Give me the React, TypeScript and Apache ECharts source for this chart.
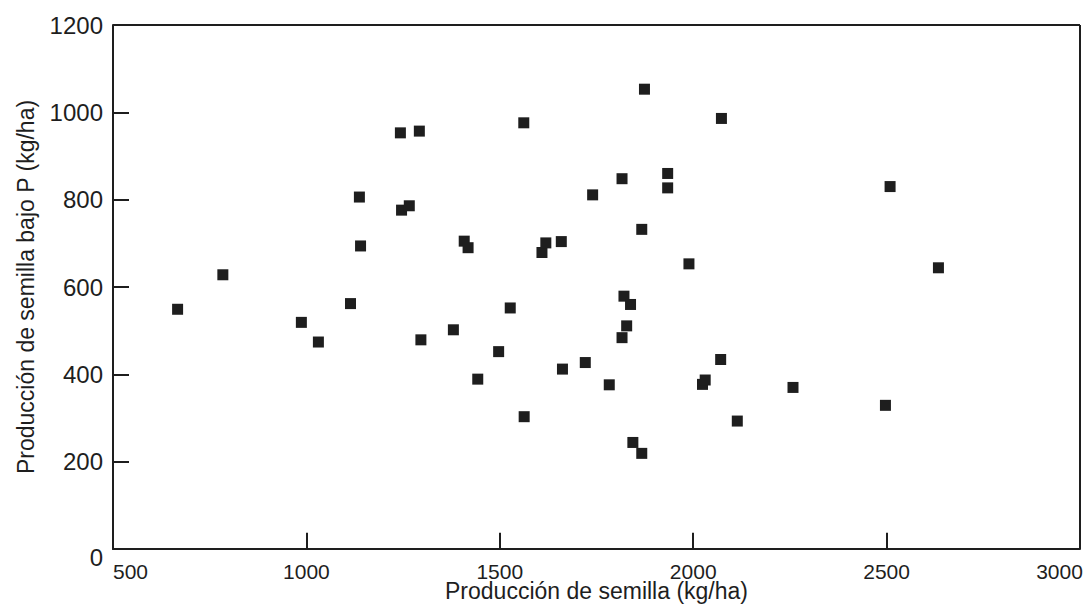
import React, { useEffect, useRef } from "react";
import * as echarts from "echarts";

// Producción de semilla (kg/ha) vs Producción de semilla bajo P (kg/ha)
const xValues = [
  667, 784, 987, 1031, 1114, 1137, 1140, 1243, 1292, 1246, 1266, 1296,
  1380, 1408, 1418, 1443, 1497, 1527, 1562, 1563, 1609, 1619, 1659, 1662,
  1721, 1740, 1783, 1816, 1816, 1828, 1821, 1838, 1844, 1867, 1867, 1874,
  1934, 1934, 1989, 2024, 2031, 2071, 2073, 2114, 2258, 2497, 2509, 2634,
];
const yValues = [
  549, 628, 519, 474, 562, 806, 694, 953, 957, 776, 786, 479,
  502, 705, 690, 389, 452, 552, 976, 303, 679, 701, 704, 412,
  427, 811, 376, 848, 484, 511, 579, 560, 244, 219, 732, 1053,
  860, 827, 653, 377, 387, 434, 986, 293, 370, 329, 830, 644,
];
const xTicks = [500, 1000, 1500, 2000, 2500, 3000];
const yTicks = [0, 200, 400, 600, 800, 1000, 1200];

const xTitle = "Producción de semilla (kg/ha)";
const yTitle = "Producción de semilla bajo P (kg/ha)";

export default function App() {
  const ref = useRef<HTMLDivElement>(null);
  useEffect(() => {
    if (!ref.current) return;
    const chart = echarts.init(ref.current, null, { renderer: "svg" });
    const ink = "#1e1e1e";
    const font = "Liberation Sans, Arial, Helvetica, sans-serif";
    const xMin = xTicks[0];
    const xMax = xTicks[xTicks.length - 1];
    const yMin = yTicks[0];
    const yMax = yTicks[yTicks.length - 1];
    const data = xValues.map((x, i) => [x, yValues[i]]);
    const xLabel = (v: number) =>
      v === xMin ? `{first|${v}}` : v === xMax ? `{last|${v}}` : String(v);
    const yLabel = (v: number) => (v === yMin ? `{low|${v}}` : String(v));
    // inward tick length, in axis units (about 16px on each axis)
    const xTickUnits = 41;
    const yTickUnits = 37;
    const frame = [
      [{ coord: [xMin, yMax] }, { coord: [xMax, yMax] }],
      [{ coord: [xMax, yMin] }, { coord: [xMax, yMax] }],
    ];
    const ticks = [
      ...xTicks.slice(1, -1).map((v) => [{ coord: [v, yMin] }, { coord: [v, yMin + yTickUnits] }]),
      ...yTicks.slice(1, -1).map((v) => [{ coord: [xMin, v] }, { coord: [xMin + xTickUnits, v] }]),
    ];
    chart.setOption({
      animation: false,
      backgroundColor: "#ffffff",
      grid: { left: 113, top: 25, right: 8, bottom: 56, outerBoundsMode: "none" },
      xAxis: {
        type: "value",
        min: xMin,
        max: xMax,
        interval: 500,
        name: xTitle,
        nameLocation: "middle",
        nameGap: 30,
        nameMoveOverlap: false,
        nameTextStyle: { fontFamily: font, fontSize: 23, color: ink },
        axisLine: { show: true, onZero: false, lineStyle: { color: ink, width: 2 } },
        axisTick: { show: true, inside: true, length: 16, lineStyle: { color: ink, width: 2 } },
        axisLabel: {
          fontFamily: font,
          fontSize: 21,
          color: ink,
          margin: 12,
          formatter: xLabel,
          rich: {
            first: { fontFamily: font, fontSize: 21, color: ink, padding: [0, 0, 0, 35] },
            last: { fontFamily: font, fontSize: 21, color: ink, padding: [0, 41, 0, 0] },
          },
        },
        splitLine: { show: false },
      },
      yAxis: {
        type: "value",
        min: yMin,
        max: yMax,
        interval: 200,
        name: yTitle,
        nameLocation: "middle",
        nameGap: 76,
        nameMoveOverlap: false,
        nameTextStyle: { fontFamily: font, fontSize: 23, color: ink },
        axisLine: { show: true, onZero: false, lineStyle: { color: ink, width: 2 } },
        axisTick: { show: true, inside: true, length: 16, lineStyle: { color: ink, width: 2 } },
        axisLabel: {
          fontFamily: font,
          fontSize: 24,
          color: ink,
          margin: 10,
          formatter: yLabel,
          rich: {
            low: { fontFamily: font, fontSize: 24, color: ink, padding: [16, 0, 0, 0] },
          },
        },
        splitLine: { show: false },
      },
      series: [
        {
          type: "scatter",
          data,
          symbol: "rect",
          symbolSize: 11,
          itemStyle: { color: ink, opacity: 1 },
          markLine: {
            silent: true,
            symbol: "none",
            label: { show: false },
            lineStyle: { color: ink, width: 2, type: "solid" },
            data: [...frame, ...ticks],
          },
        },
      ],
    });
    return () => chart.dispose();
  }, []);
  return (
    <div
      ref={ref}
      style={{ position: "fixed", left: 0, top: 0, width: 1088, height: 605, background: "#fff" }}
    />
  );
}
